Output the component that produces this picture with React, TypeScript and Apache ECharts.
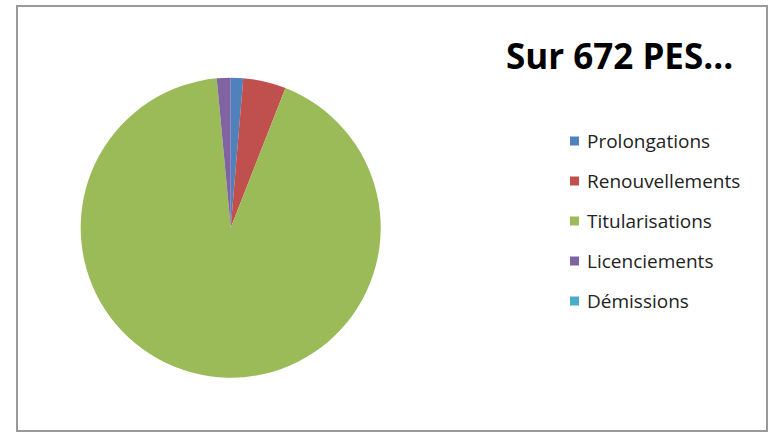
import React, { useEffect, useRef } from "react";
import * as echarts from "echarts";

const categories = ["Prolongations", "Renouvellements", "Titularisations", "Licenciements", "Démissions"];
const values = [9, 31, 622, 10, 0];
const colors = ["#4F81BD", "#C0504D", "#9BBB59", "#8064A2", "#4BACC6"];
const titleText = "Sur 672 PES...";

export default function App() {
  const ref = useRef<HTMLDivElement>(null);
  useEffect(() => {
    const chart = echarts.init(ref.current!, null, { renderer: "svg" });
    chart.setOption({
      animation: false,
      backgroundColor: "#ffffff",
      color: colors,
      title: {
        text: titleText,
        left: 501,
        top: 33,
        textStyle: { fontFamily: "Open Sans", fontWeight: "bold", fontSize: 35, color: "#000" },
      },
      legend: {
        orient: "vertical",
        left: 565,
        top: 126,
        itemWidth: 9,
        itemHeight: 9,
        itemGap: 20,
        icon: "rect",
        selectedMode: false,
        textStyle: { fontFamily: "Open Sans", fontSize: 19, color: "#222", lineHeight: 20, padding: [0, 0, 0, 3] },
        data: categories,
      },
      graphic: [
        {
          type: "rect",
          shape: { x: 17, y: 6, width: 750, height: 425 },
          style: { fill: "none", stroke: "#9a9a9a", lineWidth: 2 },
          z: 100,
        },
      ],
      series: [
        {
          type: "pie",
          center: [230.7, 227.7],
          radius: 150,
          startAngle: 90,
          clockwise: true,
          label: { show: false },
          labelLine: { show: false },
          emphasis: { disabled: true },
          itemStyle: { borderWidth: 0 },
          data: categories.map((c, i) => ({ name: c, value: values[i] })),
        },
      ],
    });
    return () => chart.dispose();
  }, []);
  return <div ref={ref} style={{ position: "fixed", left: 0, top: 0, width: 773, height: 434 }} />;
}
